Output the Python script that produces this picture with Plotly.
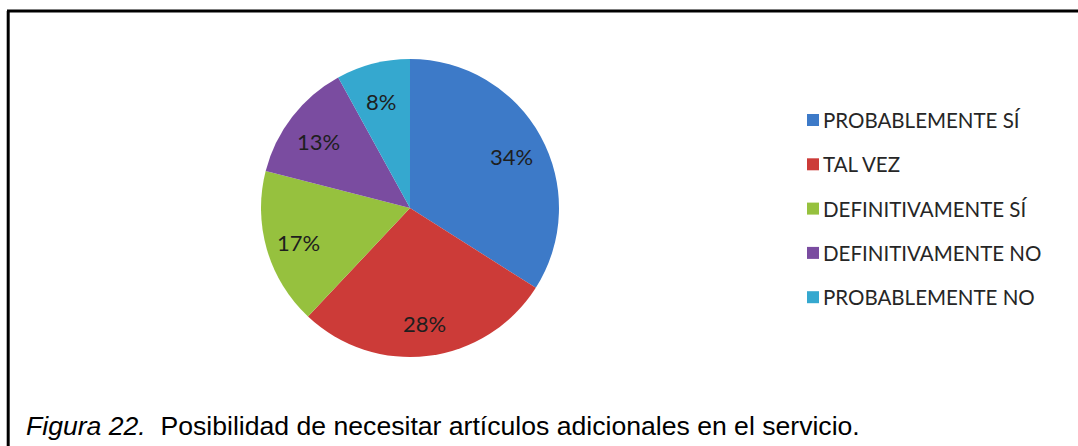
import math
import plotly.graph_objects as go

# Chart data
categories = ["PROBABLEMENTE SÍ", "TAL VEZ", "DEFINITIVAMENTE SÍ",
              "DEFINITIVAMENTE NO", "PROBABLEMENTE NO"]
values = [34, 28, 17, 13, 8]
colors = ["#3d7ac8", "#cc3b38", "#96c13e", "#7a4ca0", "#35a8cf"]
caption_label = "Figura 22."
caption_text = "Posibilidad de necesitar artículos adicionales en el servicio."

W, H = 1078, 446


def px(x):
    return x / W


def py(y):
    return 1 - y / H


# Pie geometry (pixels)
cx, cy, r = 410, 208, 149

fig = go.Figure(go.Pie(
    labels=categories,
    values=values,
    sort=False,
    direction="clockwise",
    rotation=0,
    marker=dict(colors=colors, line=dict(width=0)),
    textinfo="none",
    showlegend=False,
    hoverinfo="label+percent",
    domain=dict(x=[px(cx - r), px(cx + r)], y=[py(cy + r), py(cy - r)]),
))

shapes = [
    # frame lines (left and top)
    dict(type="line", xref="paper", yref="paper",
         x0=px(8.2), x1=px(8.2), y0=0, y1=py(11), line=dict(color="black", width=3)),
    dict(type="line", xref="paper", yref="paper",
         x0=px(7), x1=1, y0=py(11), y1=py(11), line=dict(color="black", width=3)),
]
annotations = []

# Percentage labels placed along each slice's bisector
total = sum(values)
cum = 0
for v in values:
    mid = (cum + v / 2) / total * 2 * math.pi
    cum += v
    lx = cx + 0.78 * r * math.sin(mid)
    ly = cy - 0.76 * r * math.cos(mid) + 3
    annotations.append(dict(xref="paper", yref="paper", x=px(lx), y=py(ly),
                            xanchor="center", yanchor="middle", showarrow=False,
                            text=f"{round(v / total * 100)}%",
                            font=dict(family="Lato", size=22, color="#1e1e1e")))

# Custom legend
leg_y0, leg_dy = 120, 44.3
for i, (cat, col) in enumerate(zip(categories, colors)):
    y = leg_y0 + i * leg_dy
    shapes.append(dict(type="rect", xref="paper", yref="paper",
                       x0=px(807), x1=px(819), y0=py(y + 6), y1=py(y - 6),
                       fillcolor=col, line=dict(width=0)))
    annotations.append(dict(xref="paper", yref="paper", x=px(821), y=py(y),
                            xanchor="left", yanchor="middle", showarrow=False,
                            text=cat, font=dict(family="Lato", size=20.5, color="#262626")))

# Caption
annotations.append(dict(xref="paper", yref="paper", x=px(24), y=py(426),
                        xanchor="left", yanchor="middle", showarrow=False,
                        text="<i>" + caption_label + "</i>\u00a0 " + caption_text,
                        font=dict(family="Liberation Sans, Arial", size=26.6, color="black")))

fig.update_layout(
    width=W, height=H,
    margin=dict(l=0, r=0, t=0, b=0),
    paper_bgcolor="white",
    plot_bgcolor="white",
    shapes=shapes,
    annotations=annotations,
)

fig.write_html("out.html")
